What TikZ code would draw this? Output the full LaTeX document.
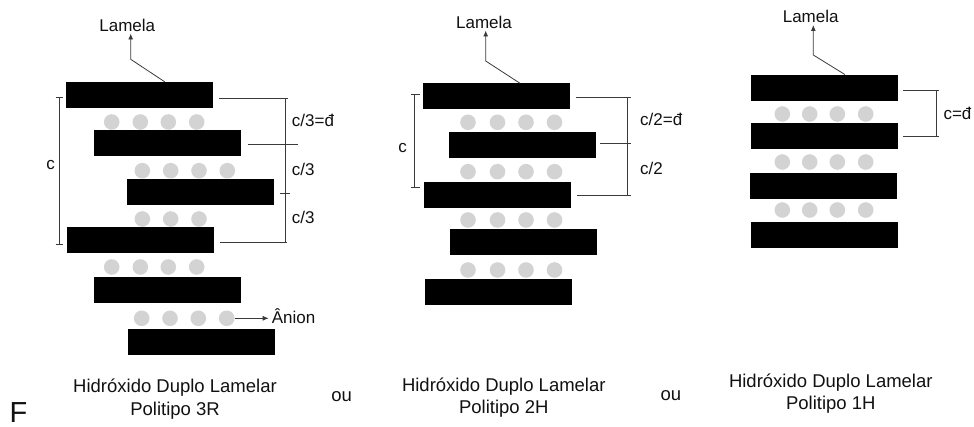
\documentclass[tikz,border=0pt]{standalone}
\usepackage{fontspec}
\setmainfont{Liberation Sans}
\usetikzlibrary{arrows.meta}
\definecolor{ink}{HTML}{111111}
\definecolor{rule}{HTML}{3A3A3A}
\definecolor{ionfill}{HTML}{D3D3D3}
\tikzset{
  bar/.style={fill=black, draw=none, rectangle, inner sep=0pt,
              minimum width=147pt, minimum height=26pt},
  ion/.style={fill=ionfill, draw=none, circle, inner sep=0pt, minimum size=15.6pt},
  dim/.style={draw=rule, line width=0.8pt},
  lead/.style={draw=rule, line width=0.8pt},
  tip/.style={-{Latex[length=6pt,width=5pt]}},
  lab/.style={inner sep=0pt, text=ink, font=\fontsize{17}{20}\selectfont},
  captext/.style={inner sep=0pt, text=ink, align=center,
              font=\fontsize{18.5}{22.3}\selectfont},
}
\begin{document}
\begin{tikzpicture}[x=1pt,y=-1pt]
\useasboundingbox (0,0) rectangle (974,427);

% ---------------- Politipo 3R ----------------
\foreach \x [count=\i] in {111.7,140.3,168.3,196.7} \node[ion] (a1c\i) at (\x,122) {};
\foreach \x [count=\i] in {142.3,170.7,199,227.3} \node[ion] (a2c\i) at (\x,170.7) {};
\foreach \x [count=\i] in {142.3,170.7,199} \node[ion] (a3c\i) at (\x,219) {};
\foreach \x [count=\i] in {111.7,140.3,168.3,196.7} \node[ion] (a4c\i) at (\x,267) {};
\foreach \x [count=\i] in {141.7,170,198.3,226.7} \node[ion] (a5c\i) at (\x,318.3) {};

\node[bar] (a1) at (139,95.2) {};
\node[bar] (a2) at (167.3,143.3) {};
\node[bar] (a3) at (200.8,192.2) {};
\node[bar] (a4) at (140.3,240.5) {};
\node[bar] (a5) at (167.3,290.5) {};
\node[bar] (a6) at (201.7,341.7) {};

\node[lab, anchor=base] (lamA) at (127.3,31.7) {Lamela};
\coordinate (kA) at (130.7,59.3);
\draw[lead,tip] ([xshift=26pt]a1.north) -- (kA) -- (kA |- 0,33.5);

\node[lab, anchor=base west, inner xsep=3pt] (anion) at (268.7,323.3) {Ânion};
\draw[lead,tip] (a5c4.east) -- (a5c4.east -| anion.west);

% c on the left
\draw[dim] (59,97.3) -- (59,244.3);
\draw[dim] (55.5,97.3) -- (63.3,97.3);
\draw[dim] (55.5,244.3) -- (63.3,244.3);
\node[lab, anchor=base] (cA) at (50.7,170) {c};

% c/3 on the right
\draw[dim] (219.3,98.3) -- (288.3,98.3);
\draw[dim] (285.7,98.3) -- (285.7,242.3);
\draw[dim] (247.7,144.3) -- (297.7,144.3);
\draw[dim] (280,193.3) -- (290,193.3);
\draw[dim] (220,242.3) -- (286.7,242.3);
\node[lab, anchor=base west] (dA1) at (291.7,126.7) {c/3=đ};
\node[lab, anchor=base west] (dA2) at (291.7,175.7) {c/3};
\node[lab, anchor=base west] (dA3) at (291.7,223.3) {c/3};

% the base anchor of a two-line caption sits on its last line
\node[captext, anchor=base] (tA) at (175,415) {Hidróxido Duplo Lamelar\\Politipo 3R};

% ---------------- Politipo 2H ----------------
\foreach \y [count=\j] in {122.3,171.7,220,270}
  \foreach \x [count=\i] in {468,497.5,526,554.5}
    \node[ion] (b\j c\i) at (\x,\y) {};

\node[bar] (b1) at (496.7,96.5) {};
\node[bar] (b2) at (522.5,145.2) {};
\node[bar] (b3) at (497.7,195.3) {};
\node[bar] (b4) at (523.3,241.7) {};
\node[bar] (b5) at (498.7,292.2) {};

\node[lab, anchor=base] (lamB) at (484,28.3) {Lamela};
\coordinate (kB) at (485.7,61);
\draw[lead,tip] ([xshift=23.3pt]b1.north) -- (kB) -- (kB |- 0,30.5);

\draw[dim] (414.3,94.3) -- (414.3,187.3);
\draw[dim] (411,94.3) -- (420,94.3);
\draw[dim] (411,187.3) -- (420,187.3);
\node[lab, anchor=base] (cB) at (402.7,153) {c};

\draw[dim] (576,97.5) -- (631,97.5);
\draw[dim] (627.7,97.5) -- (627.7,195.5);
\draw[dim] (600,143.5) -- (631,143.5);
\draw[dim] (577,195.5) -- (631,195.5);
\node[lab, anchor=base west] (dB1) at (640,125.7) {c/2=đ};
\node[lab, anchor=base west] (dB2) at (640,174.3) {c/2};

\node[captext, anchor=base] (tB) at (503.8,413.3) {Hidróxido Duplo Lamelar\\Politipo 2H};

% ---------------- Politipo 1H ----------------
\foreach \y [count=\j] in {114,162,210}
  \foreach \x [count=\i] in {782.3,809.7,837.3,865.7}
    \node[ion] (c\j c\i) at (\x,\y) {};

\node[bar] (c1) at (824.7,87.8) {};
\node[bar] (c2) at (824.7,135.7) {};
\node[bar] (c3) at (823.3,186.2) {};
\node[bar] (c4) at (824.7,235.3) {};

\node[lab, anchor=base] (lamC) at (810.7,22.7) {Lamela};
\coordinate (kC) at (813.3,55);
\draw[lead,tip] ([xshift=20.3pt]c1.north) -- (kC) -- (kC |- 0,25);

\draw[dim] (903.3,90) -- (939.3,90);
\draw[dim] (936.7,90) -- (936.7,136.7);
\draw[dim] (903.3,136.7) -- (939.3,136.7);
\node[lab, anchor=base west] (dC) at (943.3,120) {c=đ};

\node[captext, anchor=base] (tC) at (830.8,409.3) {Hidróxido Duplo Lamelar\\Politipo 1H};

% ---------------- between the panels ----------------
\node[captext, anchor=base] (ou1) at (341.7,401.7) {ou};
\node[captext, anchor=base] (ou2) at (670.8,400) {ou};
\node[inner sep=0pt, text=ink, anchor=base west, font=\fontsize{29}{32}\selectfont] (fig) at (9.5,422) {F};
\end{tikzpicture}
\end{document}
